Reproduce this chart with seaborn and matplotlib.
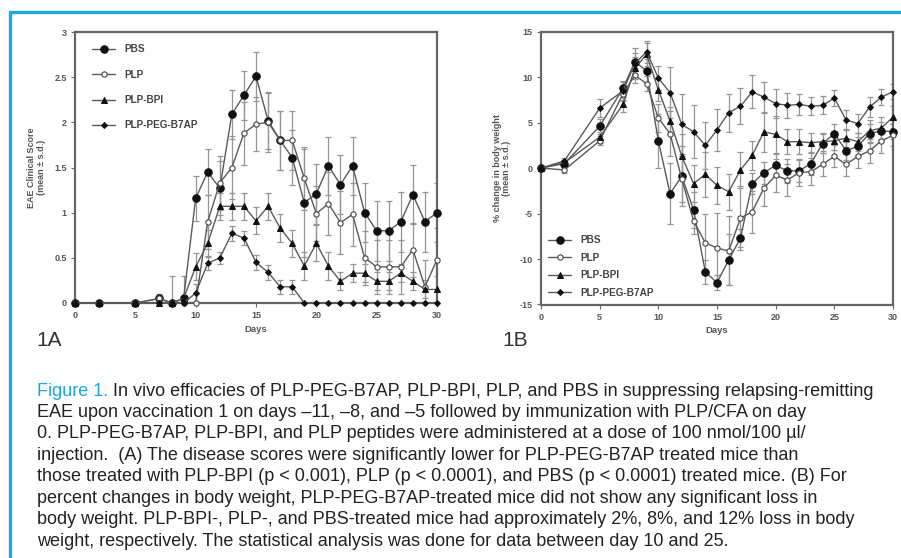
import numpy as np
import pandas as pd
import matplotlib
matplotlib.use("Agg")
import matplotlib.pyplot as plt
import seaborn as sns
from matplotlib.lines import Line2D

# ---------------- data ----------------
days = [0, 2, 5, 7, 8, 9, 10, 11, 12, 13, 14, 15, 16, 17, 18, 19, 20, 21, 22, 23, 24, 25, 26, 27, 28, 29, 30]
groups = ["PBS", "PLP", "PLP-BPI", "PLP-PEG-B7AP"]

# Panel A: EAE clinical score
score_pbs = [0, 0, 0, 0.05, 0, 0.05, 1.16, 1.45, 1.27, 2.09, 2.30, 2.51, 2.02, 1.80, 1.61, 1.11, 1.21, 1.52, 1.31, 1.52, 1.00, 0.80, 0.80, 0.90, 1.20, 0.90, 1.00]
score_plp = [0, 0, 0, 0.05, 0, 0, 0, 0.90, 1.33, 1.50, 1.88, 1.98, 2.00, 1.80, 1.80, 1.38, 0.99, 1.10, 0.89, 0.98, 0.50, 0.40, 0.40, 0.40, 0.59, 0.18, 0.48]
score_bpi = [0, 0, 0, 0, 0, 0.05, 0.40, 0.66, 1.07, 1.07, 1.07, 0.91, 1.07, 0.83, 0.66, 0.41, 0.66, 0.41, 0.24, 0.33, 0.33, 0.24, 0.24, 0.33, 0.24, 0.15, 0.15]
score_b7ap = [0, 0, 0, 0, 0, 0, 0.11, 0.44, 0.50, 0.77, 0.72, 0.45, 0.34, 0.18, 0.18, 0, 0, 0, 0, 0, 0, 0, 0, 0, 0, 0, 0]
sd_score_pbs = [0, 0, 0, 0.05, 0.3, 0.25, 0.25, 0.25, 0.3, 0.27, 0.27, 0.27, 0.32, 0.33, 0.3, 0.6, 0.33, 0.32, 0.33, 0.32, 0.33, 0.33, 0.33, 0.33, 0.33, 0.33, 0.33]
sd_score_plp = [0, 0, 0, 0, 0, 0, 0.1, 0.3, 0.3, 0.35, 0.35, 0.3, 0.33, 0.33, 0.33, 0.35, 0.3, 0.35, 0.35, 0.35, 0.3, 0.3, 0.3, 0.3, 0.3, 0.3, 0.35]
sd_score_bpi = [0, 0, 0, 0, 0, 0, 0.15, 0.15, 0.15, 0.15, 0.15, 0.15, 0.15, 0.15, 0.15, 0.15, 0.2, 0.15, 0.1, 0.1, 0.1, 0.1, 0.1, 0.1, 0.1, 0.1, 0.15]
sd_score_b7ap = [0, 0, 0, 0, 0, 0, 0.1, 0.08, 0.07, 0.08, 0.08, 0.08, 0.08, 0.08, 0.08, 0, 0, 0, 0, 0, 0, 0, 0, 0, 0, 0, 0]

# Panel B: % change in body weight
wt_pbs = [0, 0.5, 4.6, 8.8, 11.7, 10.7, 3.0, -2.8, -0.9, -4.6, -11.4, -12.6, -10.1, -7.7, -1.7, -0.5, 0.3, -0.3, -0.3, 0.5, 2.7, 3.8, 1.9, 2.4, 3.8, 4.1, 4.0]
wt_plp = [0, -0.2, 3.0, 8.2, 10.2, 9.3, 5.5, 3.8, -1.2, -5.8, -8.2, -8.8, -9.1, -5.5, -4.8, -2.2, -0.8, -1.3, -0.5, -0.4, 0.4, 1.3, 0.4, 1.3, 1.9, 3.0, 3.6]
wt_bpi = [0, 0.6, 3.4, 7.0, 11.0, 12.5, 8.6, 5.2, 1.3, -1.7, -0.7, -1.9, -2.6, -0.2, 1.4, 4.0, 3.7, 2.9, 2.9, 2.8, 2.9, 3.0, 3.3, 2.9, 4.1, 4.4, 5.6]
wt_b7ap = [0, 0.8, 6.6, 8.5, 11.5, 12.8, 9.9, 8.3, 4.8, 4.0, 2.5, 4.2, 6.1, 6.8, 8.4, 7.8, 7.1, 6.9, 7.0, 6.8, 6.9, 7.7, 5.3, 4.9, 6.7, 7.8, 8.4]
sd_wt_pbs = [0, 0.3, 0.8, 0.8, 1.5, 1.3, 3.0, 3.4, 3.3, 2.0, 1.3, 0.8, 2.8, 1.0, 1.2, 1.2, 1.2, 1.3, 1.2, 1.3, 1.0, 1.0, 1.0, 1.0, 1.0, 1.0, 0.8]
sd_wt_plp = [0, 0.3, 0.5, 0.8, 0.8, 0.8, 1.5, 2.5, 2.5, 1.5, 3.2, 3.9, 3.8, 3.5, 2.3, 2.0, 1.8, 1.8, 1.5, 1.5, 1.3, 1.2, 1.3, 1.3, 1.3, 1.3, 1.2]
sd_wt_bpi = [0, 0.3, 0.6, 0.8, 1.2, 1.3, 1.2, 1.5, 2.5, 2.0, 2.5, 2.0, 2.0, 2.0, 1.6, 2.2, 2.0, 1.4, 1.4, 1.1, 1.0, 1.0, 1.0, 1.0, 1.2, 1.2, 1.2]
sd_wt_b7ap = [0, 0.3, 1.0, 1.0, 1.2, 1.2, 1.3, 2.8, 3.3, 2.9, 2.6, 2.3, 2.1, 2.0, 1.8, 1.7, 1.6, 1.4, 1.2, 1.0, 1.0, 0.9, 1.1, 1.0, 1.1, 0.9, 0.8]

xticks = [0, 5, 10, 15, 20, 25, 30]
yticks_a = [0, 0.5, 1, 1.5, 2, 2.5, 3]
yticklabels_a = ["0", "0.5", "1", "1.5", "2", "2.5", "3"]
yticks_b = [-15, -10, -5, 0, 5, 10, 15]

caption_head = "Figure 1."
caption_lines = [
    "In vivo efficacies of PLP-PEG-B7AP, PLP-BPI, PLP, and PBS in suppressing relapsing-remitting",
    "EAE upon vaccination 1 on days \u201311, \u20138, and \u20135 followed by immunization with PLP/CFA on day",
    "0. PLP-PEG-B7AP, PLP-BPI, and PLP peptides were administered at a dose of 100 nmol/100 \u00b5l/",
    "injection.  (A) The disease scores were significantly lower for PLP-PEG-B7AP treated mice than",
    "those treated with PLP-BPI (p < 0.001), PLP (p < 0.0001), and PBS (p < 0.0001) treated mice. (B) For",
    "percent changes in body weight, PLP-PEG-B7AP-treated mice did not show any significant loss in",
    "body weight. PLP-BPI-, PLP-, and PBS-treated mice had approximately 2%, 8%, and 12% loss in body",
    "weight, respectively. The statistical analysis was done for data between day 10 and 25.",
]

# ---------------- style ----------------
sns.set_theme(style="white")
plt.rcParams["font.family"] = ["Liberation Sans", "DejaVu Sans"]

W, H = 901, 558
fig = plt.figure(figsize=(W / 100, H / 100), dpi=100)
fig.patch.set_facecolor("white")

axA = fig.add_axes([75 / W, 1 - 303 / H, 362 / W, 271 / H])
axB = fig.add_axes([541 / W, 1 - 304.5 / H, 352 / W, 272.8 / H])

line_col = "#5a5a5a"
err_col = "#959595"
styles = {
    "PBS": dict(marker="o", markersize=5.4, markerfacecolor="#111111", markeredgecolor="#111111"),
    "PLP": dict(marker="o", markersize=3.8, markerfacecolor="white", markeredgecolor="#444444", markeredgewidth=0.8),
    "PLP-BPI": dict(marker="^", markersize=4.3, markerfacecolor="#111111", markeredgecolor="#111111"),
    "PLP-PEG-B7AP": dict(marker="D", markersize=3.0, markerfacecolor="#111111", markeredgecolor="#111111"),
}

def draw(ax, series, sds):
    for g, vals, sd in zip(groups, series, sds):
        ax.errorbar(days, vals, yerr=sd, fmt="none", ecolor=err_col, elinewidth=0.9,
                    capsize=2.2, capthick=0.9, zorder=2)
    for g, vals in zip(groups, series):
        df = pd.DataFrame({"day": days, "val": vals})
        sns.lineplot(data=df, x="day", y="val", ax=ax, color=line_col, linewidth=1.0,
                     label=g, clip_on=False, zorder=3, **styles[g])

draw(axA, [score_pbs, score_plp, score_bpi, score_b7ap],
     [sd_score_pbs, sd_score_plp, sd_score_bpi, sd_score_b7ap])
draw(axB, [wt_pbs, wt_plp, wt_bpi, wt_b7ap],
     [sd_wt_pbs, sd_wt_plp, sd_wt_bpi, sd_wt_b7ap])

tick_font = dict(fontsize=6.5, fontweight="bold", color="#555555")
for ax in (axA, axB):
    ax.set_xlim(0, 30)
    ax.set_xticks(xticks)
    ax.set_xticklabels([str(t) for t in xticks], **tick_font)
    for s in ax.spines.values():
        s.set_visible(True)
        s.set_color("#666666")
        s.set_linewidth(1.6)
    ax.tick_params(axis="both", which="major", direction="out", length=3, width=0.8,
                   color="#666666", pad=3, bottom=True, left=True)
    ax.set_xlabel("Days", fontsize=6.8, fontweight="bold", color="#555555", labelpad=3)
    ax.set_facecolor("white")

axA.set_ylim(0, 3)
axA.set_yticks(yticks_a)
axA.set_yticklabels(yticklabels_a, **tick_font)
axA.set_ylabel("EAE Clinical Score\n(mean \u00b1 s.d.)", fontsize=6.5, fontweight="bold",
               color="#555555", labelpad=6, linespacing=1.1)

axB.set_ylim(-15, 15)
axB.set_yticks(yticks_b)
axB.set_yticklabels([str(t) for t in yticks_b], **tick_font)
axB.set_ylabel("% change in body weight\n(mean \u00b1 s.d.)", fontsize=6.5, fontweight="bold",
               color="#555555", labelpad=6, linespacing=1.1)

leg_font = dict(size=7.2, weight="bold")
legA = axA.legend(loc="upper left", bbox_to_anchor=((92 - 75) / 362, (303 - 44) / 271),
                  frameon=False, prop=leg_font, labelspacing=1.55, handlelength=2.3,
                  handletextpad=0.9, borderaxespad=0, borderpad=0)
legB = axB.legend(loc="lower left", bbox_to_anchor=((548 - 541) / 352, (304.5 - 298) / 272.8),
                  frameon=False, prop=leg_font, labelspacing=0.75, handlelength=2.3,
                  handletextpad=0.9, borderaxespad=0, borderpad=0)
for leg in (legA, legB):
    for t in leg.get_texts():
        t.set_color("#444444")

# panel labels
fig.text(36 / W, 1 - 346 / H, "1A", fontsize=15, color="#333333", va="baseline", ha="left")
fig.text(502 / W, 1 - 346 / H, "1B", fontsize=15, color="#333333", va="baseline", ha="left")

# blue frame
blue = "#1aa9e6"
fig.add_artist(Line2D([10 / W, 1.0], [1 - 12 / H, 1 - 12 / H], transform=fig.transFigure, color=blue, lw=2.4))
fig.add_artist(Line2D([10 / W, 10 / W], [1 - 12 / H, 0], transform=fig.transFigure, color=blue, lw=2.4))

# caption
cap_size = 13
cap_family = ["Liberation Sans", "DejaVu Sans"]
x0 = 37 / W
base0 = 395.5
step = 21.45
t0 = fig.text(x0, 1 - base0 / H, caption_head, fontsize=cap_size, color="#1ba6e0",
              family=cap_family, va="baseline", ha="left")
fig.canvas.draw()
bb = t0.get_window_extent(renderer=fig.canvas.get_renderer())
for i, line in enumerate(caption_lines):
    if i == 0:
        fig.text(bb.x1 / W, 1 - base0 / H, " " + line, fontsize=cap_size, color="#222222",
                 family=cap_family, va="baseline", ha="left")
    else:
        fig.text(x0, 1 - (base0 + i * step) / H, line, fontsize=cap_size, color="#222222",
                 family=cap_family, va="baseline", ha="left")

fig.savefig("out.png", dpi=100, facecolor="white")
